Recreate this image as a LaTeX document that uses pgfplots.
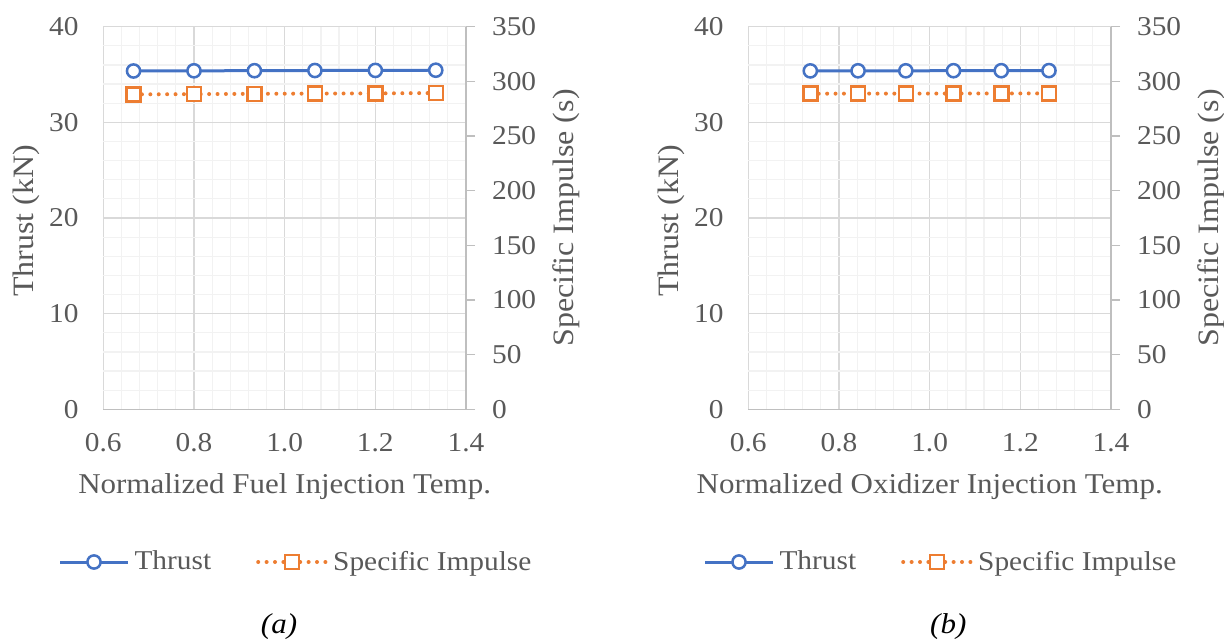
\documentclass[border=0pt]{standalone}
\usepackage{fontspec}
\setmainfont{Liberation Serif}[FakeStretch=1.08]
\usepackage{pgfplots}
\pgfplotsset{compat=1.18}

\definecolor{xblue}{HTML}{4472C4}
\definecolor{xorange}{HTML}{ED7D31}
\definecolor{txt}{HTML}{595959}
\definecolor{gridmaj}{HTML}{D9D9D9}
\definecolor{gridmin}{HTML}{F2F2F2}
\definecolor{axln}{HTML}{BFBFBF}

\newcommand{\tickfont}{\fontsize{13.6}{16}\selectfont}
\newcommand{\xtitlefont}{\fontsize{14.35}{17}\selectfont}
\newcommand{\ytitlefont}{\fontsize{14.8}{17.5}\selectfont}

\pgfplotsset{
  thrust/.style={color=xblue, line width=1.5pt, mark=*, mark size=3.3pt,
    mark options={solid, fill=white, draw=xblue, line width=1.25pt}},
  isp/.style={color=xorange, line width=2pt, line cap=round,
    dash pattern=on 0pt off 4.2pt, mark=square*, mark size=3.5pt,
    mark options={solid, fill=white, draw=xorange, line width=1.25pt}},
  panel/.style={
    width=181.35pt, height=191.3pt, scale only axis,
    xmin=0.6, xmax=1.4,
    /pgf/number format/assume math mode=true,
    tick label style={font=\tickfont, text=txt},
  },
  leftaxis/.style={
    panel,
    ymin=0, ymax=40,
    axis x line*=bottom, axis y line*=left,
    x axis line style={draw=axln, line width=0.75pt},
    y axis line style={draw=none},
    xtick={0.6,0.8,1.0,1.2,1.4},
    xticklabel style={/pgf/number format/fixed, /pgf/number format/fixed zerofill,
      /pgf/number format/precision=1},
    ytick={0,10,20,30,40},
    minor x tick num=4, minor y tick num=4,
    major tick length=0pt, minor tick length=0pt,
    grid=both,
    major grid style={draw=gridmaj, line width=0.6pt},
    minor grid style={draw=gridmin, line width=0.6pt},
    xticklabel style={anchor=north, inner sep=0pt, yshift=-11.9pt},
    yticklabel style={anchor=east, inner sep=0pt, xshift=-12.15pt},
    every axis x label/.style={at={(axis description cs:0.5,0)}, anchor=base,
      yshift=-42pt, font=\xtitlefont, text=txt},
    every axis y label/.style={at={([xshift=-34.8pt,yshift=-1.5pt]axis description cs:0,0.5)},
      rotate=90, anchor=base, font=\ytitlefont, text=txt},
    ylabel={Thrust (kN)},
    legend columns=2,
    legend cell align=left,
    legend image code/.code={%
      \draw[#1, mark repeat=2, mark phase=2] plot coordinates {(0pt,0pt) (17pt,0pt) (34pt,0pt)};},
    legend style={draw=none, fill=none, font=\tickfont, text=txt,
      at={([yshift=-76.35pt]axis description cs:0.534,0)}, anchor=center,
      inner sep=0pt,
      /tikz/every odd column/.append style={column sep=0.5pt},
      /tikz/every even column/.append style={column sep=20.5pt}},
  },
  rightaxis/.style={
    panel,
    ymin=0, ymax=350,
    axis x line=none, axis y line*=right,
    y axis line style={draw=axln, line width=0.75pt},
    ytick={0,50,...,350},
    tick align=outside, major tick length=4.5pt,
    major tick style={draw=axln, line width=0.75pt},
    yticklabel style={anchor=west, inner sep=0pt, xshift=8.35pt},
    every axis y label/.style={at={([xshift=53.5pt]axis description cs:1,0.5)},
      rotate=90, anchor=base, font=\ytitlefont, text=txt},
    ylabel={Specific Impulse (s)},
  },
}

\begin{document}
\begin{tikzpicture}
\path[use as bounding box] (-51.65pt,-116.35pt) rectangle (560.35pt,204.65pt);

% (a) fuel injection temperature sweep
\begin{axis}[leftaxis, at={(0pt,0pt)}, anchor=south west,
  xlabel={Normalized Fuel Injection Temp.}]
\addplot[thrust] coordinates {
  (0.6667,35.37) (0.8000,35.39) (0.9333,35.40) (1.0667,35.42) (1.2000,35.43) (1.3333,35.45)};
\addlegendentry{Thrust}
\addlegendimage{isp}
\addlegendentry{Specific Impulse}
\end{axis}
\begin{axis}[rightaxis, at={(0pt,0pt)}, anchor=south west]
\addplot[isp] coordinates {
  (0.6667,288.1) (0.8000,288.3) (0.9333,288.6) (1.0667,288.8) (1.2000,289.0) (1.3333,289.3)};
\end{axis}
\node[font=\xtitlefont\itshape, text=black] at (87.85pt,-108.85pt) {(a)};

% (b) oxidizer injection temperature sweep
\begin{axis}[leftaxis, at={(322.5pt,0pt)}, anchor=south west,
  xlabel={Normalized Oxidizer Injection Temp.}]
\addplot[thrust] coordinates {
  (0.7368,35.38) (0.8421,35.39) (0.9474,35.39) (1.0526,35.40) (1.1579,35.40) (1.2632,35.41)};
\addlegendentry{Thrust}
\addlegendimage{isp}
\addlegendentry{Specific Impulse}
\end{axis}
\begin{axis}[rightaxis, at={(322.5pt,0pt)}, anchor=south west]
\addplot[isp] coordinates {
  (0.7368,288.7) (0.8421,288.8) (0.9474,288.8) (1.0526,288.9) (1.1579,288.9) (1.2632,289.0)};
\end{axis}
\node[font=\xtitlefont\itshape, text=black] at (422.5pt,-108.85pt) {(b)};
\end{tikzpicture}
\end{document}
